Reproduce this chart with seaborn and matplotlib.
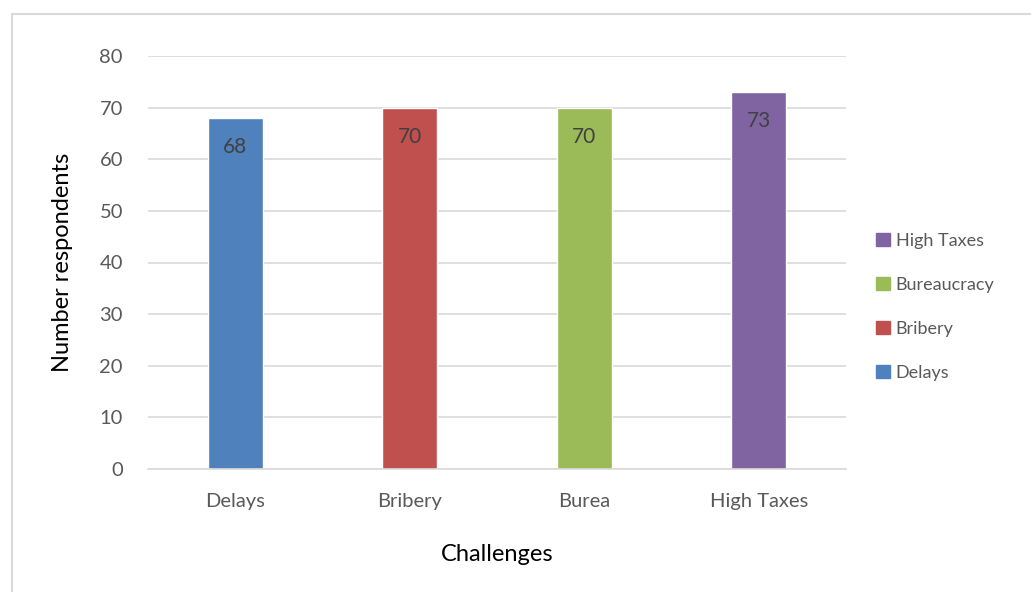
import matplotlib
matplotlib.use("Agg")
import matplotlib.pyplot as plt
import matplotlib.patches as mpatches
import seaborn as sns
import pandas as pd

# Data
tick_labels = ["Delays", "Bribery", "Burea", "High Taxes"]
series_names = ["Delays", "Bribery", "Bureaucracy", "High Taxes"]
values = [68, 70, 70, 73]
colors = ["#4F81BD", "#C0504D", "#9BBB59", "#8064A2"]

sns.set_theme(style="white")
plt.rcParams["font.family"] = ["Lato", "DejaVu Sans"]

df = pd.DataFrame({"cat": tick_labels, "series": series_names, "val": values})

fig = plt.figure(figsize=(10.31, 5.92), dpi=100)
ax = fig.add_axes([148/1031, 1-469/592, (846-148)/1031, (469-56)/592])

sns.barplot(data=df, x="cat", y="val", hue="series", palette=colors,
            dodge=False, width=0.315, ax=ax, legend=False, saturation=1)

ax.set_ylim(0, 80)
ax.set_yticks(range(0, 81, 10))
ax.set_xlim(-0.5, 3.5)
ax.grid(axis="y", color="#D9D9D9", linewidth=1.2)
ax.set_axisbelow(True)
for s in ["left", "right", "top"]:
    ax.spines[s].set_visible(False)
ax.spines["bottom"].set_color("#D9D9D9")
ax.spines["bottom"].set_linewidth(1.2)
ax.tick_params(axis="y", length=0, pad=18, labelsize=14.5, labelcolor="#595959")
ax.tick_params(axis="x", length=0, pad=17, labelsize=14.5, labelcolor="#595959")

ax.set_xlabel("Challenges", fontsize=17, color="#000000")
ax.set_ylabel("Number respondents", fontsize=17, color="#000000")
ax.xaxis.set_label_coords(0.5, -0.208)
ax.yaxis.set_label_coords(-0.123, 0.5)
ax.xaxis.label.set_va("center")
ax.yaxis.label.set_va("center")

for cont in ax.containers:
    anns = ax.bar_label(cont, padding=-21, fontsize=15, color="#404040")
    for a in anns:
        a.set_va("center")

handles = [mpatches.Patch(color=c, label=n) for c, n in zip(colors, series_names)]
leg = fig.legend(handles=handles[::-1], loc="center left",
                 bbox_to_anchor=(876/1031, 1-307/592), frameon=False,
                 fontsize=13, handlelength=0.75, handleheight=0.75,
                 handletextpad=0.35, labelspacing=1.55, borderaxespad=0,
                 borderpad=0)
for t in leg.get_texts():
    t.set_color("#595959")

border = mpatches.Rectangle((12/1031, -0.05), 1.1, 1-14/592+0.05,
                            transform=fig.transFigure, fill=False,
                            edgecolor="#D9D9D9", linewidth=1.5)
fig.patches.append(border)

fig.savefig("out.png", dpi=100)
